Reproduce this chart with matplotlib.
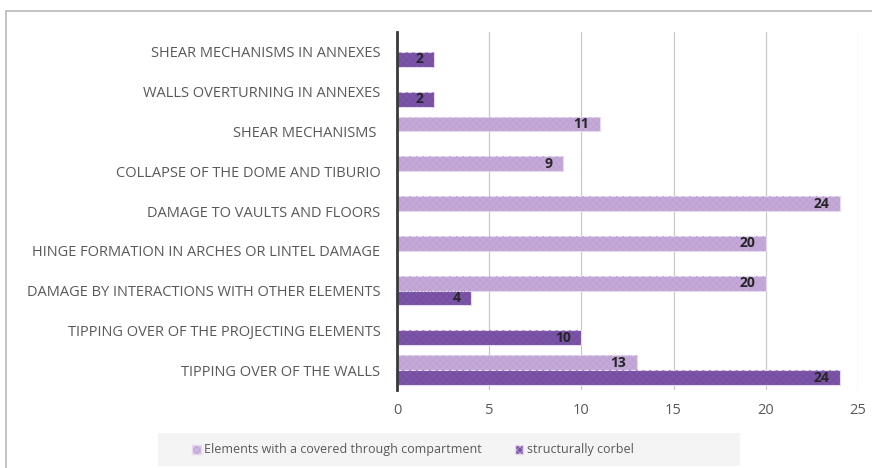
import matplotlib
matplotlib.use("Agg")
import matplotlib.pyplot as plt
from matplotlib.patches import Rectangle

plt.rcParams['font.family'] = ['Open Sans', 'DejaVu Sans']
plt.rcParams['hatch.linewidth'] = 0.3

categories = [
    "SHEAR MECHANISMS IN ANNEXES",
    "WALLS OVERTURNING IN ANNEXES",
    "SHEAR MECHANISMS ",
    "COLLAPSE OF THE DOME AND TIBURIO",
    "DAMAGE TO VAULTS AND FLOORS",
    "HINGE FORMATION IN ARCHES OR LINTEL DAMAGE",
    "DAMAGE BY INTERACTIONS WITH OTHER ELEMENTS",
    "TIPPING OVER OF THE PROJECTING ELEMENTS",
    "TIPPING OVER OF THE WALLS",
]
covered_compartment = [0, 0, 11, 9, 24, 20, 20, 0, 13]
corbel = [2, 2, 0, 0, 0, 0, 4, 10, 24]
series_names = ["Elements with a covered through compartment", "structurally corbel"]
x_ticks = [0, 5, 10, 15, 20, 25]

light = "#C4A9D8"
dark = "#7B54A8"
text_grey = "#595959"

fig = plt.figure(figsize=(8.72, 4.68), dpi=100)
ax = fig.add_axes([397 / 872, 1 - 390 / 468, (858 - 397) / 872, (390 - 32) / 468])

h = 0.375
ypos = list(range(len(categories)))
y_light = [y - h / 2 for y in ypos]
y_dark = [y + h / 2 for y in ypos]

for yv, vals, col, hcol in [(y_light, covered_compartment, light, "#B89BCD"),
                            (y_dark, corbel, dark, "#6F489C")]:
    ax.barh(yv, vals, height=h, color=col, edgecolor="#E6DAF0", linewidth=0.8, zorder=3)
    ax.barh(yv, vals, height=h, fill=False, hatch="xxxxx", edgecolor=hcol, linewidth=0, zorder=4)
    for y, v in zip(yv, vals):
        if v:
            ax.annotate(str(v), xy=(v, y), xytext=(-7.5, 0), textcoords="offset points",
                        ha="right", va="center", fontsize=10, fontweight="bold",
                        color="#262626", zorder=5)

ax.set_xlim(0, 25)
ax.set_ylim(len(categories) - 0.5, -0.5)
ax.set_xticks(x_ticks)
ax.set_yticks(ypos)
ax.set_yticklabels(categories)
ax.tick_params(axis="both", length=0, labelsize=10.5, colors=text_grey)
ax.tick_params(axis="x", pad=9)
ax.tick_params(axis="y", pad=12)
ax.grid(axis="x", color="#C8C8C8", linewidth=0.9, zorder=0)
for s in ["top", "right", "bottom"]:
    ax.spines[s].set_visible(False)
ax.spines["left"].set_color("#3A3A3A")
ax.spines["left"].set_linewidth(2)
ax.spines["left"].set_zorder(6)

# Outer chart frame
fig.patches.append(Rectangle((6 / 872, -0.1), 1.2, 1 - 11 / 468 + 0.1, transform=fig.transFigure,
                             fill=False, edgecolor="#BEBEBE", linewidth=1.3, zorder=0))
# Legend background band
fig.patches.append(Rectangle((158 / 872, 1 - 466 / 468), (740 - 158) / 872, 33 / 468,
                             transform=fig.transFigure, facecolor="#F4F4F4",
                             edgecolor="none", zorder=0))

handles = [Rectangle((0, 0), 1, 1, facecolor=light, edgecolor="#E6DAF0", hatch="xxxxx"),
           Rectangle((0, 0), 1, 1, facecolor=dark, edgecolor="#E6DAF0", hatch="xxxxx")]
fig.legend(handles, series_names, loc="center", bbox_to_anchor=(413 / 872, 1 - 450 / 468),
           ncol=2, frameon=False, fontsize=9, labelcolor=text_grey, handlelength=0.7,
           handleheight=0.7, handletextpad=0.3, columnspacing=2.6)

fig.savefig("out.png", dpi=100)
